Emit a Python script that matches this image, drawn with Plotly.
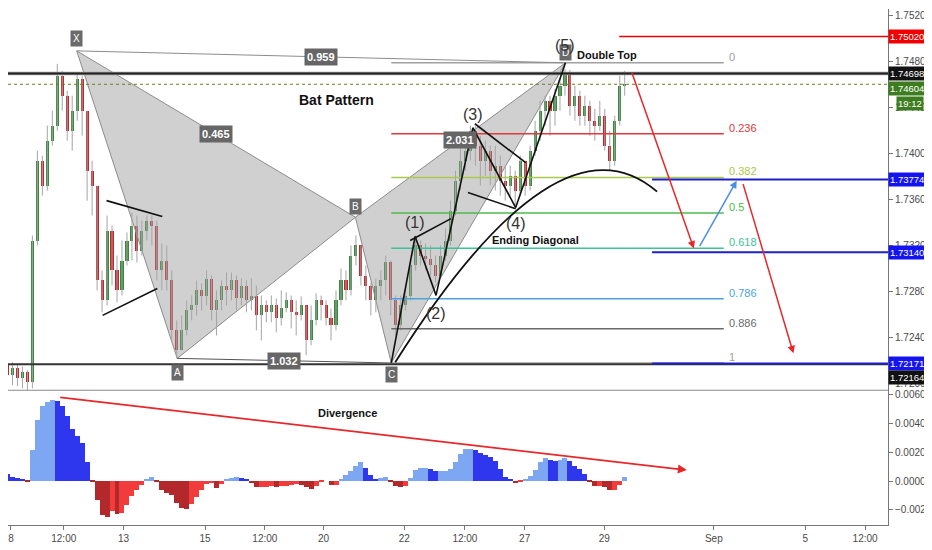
import plotly.graph_objects as go

# ---------------- data ----------------
first_open = 1.72372
closes = [
    1.72155, 1.72068, 1.72128, 1.72041, 1.72094, 1.72007, 1.73242, 1.73938, 1.73721, 1.74112,
    1.74243, 1.74678, 1.74504, 1.74199, 1.74373, 1.74651, 1.74373, 1.73851, 1.73721, 1.72894,
    1.72720, 1.73329, 1.72981, 1.72807, 1.73068, 1.73242, 1.73373, 1.73155, 1.73329, 1.73416,
    1.73373, 1.72981, 1.73068, 1.72894, 1.72459, 1.72285, 1.72459, 1.72633, 1.72677, 1.72807,
    1.72763, 1.72911, 1.72633, 1.72720, 1.72850, 1.72807, 1.72894, 1.72737, 1.72850, 1.72720,
    1.72763, 1.72589, 1.72677, 1.72616, 1.72677, 1.72563, 1.72650, 1.72720, 1.72616, 1.72589,
    1.72677, 1.72372, 1.72546, 1.72720, 1.72677, 1.72563, 1.72502, 1.72720, 1.72894, 1.72807,
    1.73111, 1.73199, 1.72937, 1.72850, 1.72720, 1.72850, 1.72894, 1.73051, 1.72720, 1.72502,
    1.72677, 1.72763, 1.73025, 1.73199, 1.73111, 1.73085, 1.73025, 1.72937, 1.73111, 1.73242,
    1.73503, 1.73764, 1.73938, 1.74025, 1.74199, 1.74069, 1.73938, 1.74025, 1.73851, 1.73895,
    1.73764, 1.73721, 1.73807, 1.73677, 1.73938, 1.73721, 1.74025, 1.74199, 1.74373, 1.74460,
    1.74373, 1.74504, 1.74591, 1.74704, 1.74416, 1.74504, 1.74330, 1.74416, 1.74286, 1.74243,
    1.74330, 1.74069, 1.73938, 1.74286, 1.74591, 1.74604]
highs = [
    1.72433, 1.72181, 1.72181, 1.72163, 1.72146, 1.72111, 1.73286, 1.74025, 1.73982, 1.74243,
    1.74373, 1.74782, 1.74721, 1.74547, 1.74504, 1.74704, 1.74680, 1.74373, 1.73938, 1.73721,
    1.72981, 1.73460, 1.73373, 1.73111, 1.73242, 1.73312, 1.73486, 1.73460, 1.73416, 1.73460,
    1.73460, 1.73416, 1.73216, 1.73199, 1.72981, 1.72546, 1.72589, 1.72720, 1.72763, 1.72894,
    1.72868, 1.72981, 1.72937, 1.72807, 1.72894, 1.72964, 1.72964, 1.72937, 1.72911, 1.72894,
    1.72911, 1.72850, 1.72763, 1.72720, 1.72763, 1.72737, 1.72807, 1.72790, 1.72763, 1.72720,
    1.72755, 1.72677, 1.72677, 1.72781, 1.72763, 1.72720, 1.72650, 1.72807, 1.72998, 1.72981,
    1.73199, 1.73286, 1.73199, 1.73025, 1.72877, 1.72911, 1.72981, 1.73111, 1.73068, 1.72763,
    1.72763, 1.72850, 1.73085, 1.73286, 1.73242, 1.73216, 1.73199, 1.73111, 1.73199, 1.73346,
    1.73590, 1.73851, 1.74112, 1.74156, 1.74243, 1.74243, 1.74156, 1.74112, 1.74069, 1.74069,
    1.73982, 1.73895, 1.73895, 1.73851, 1.73982, 1.73938, 1.74069, 1.74286, 1.74460, 1.74504,
    1.74504, 1.74564, 1.74651, 1.74738, 1.74730, 1.74591, 1.74547, 1.74504, 1.74460, 1.74390,
    1.74460, 1.74390, 1.74199, 1.74330, 1.74678, 1.74721]
lows = [
    1.72111, 1.72007, 1.71980, 1.71972, 1.71954, 1.71937, 1.71954, 1.73199, 1.73633, 1.73677,
    1.74069, 1.74199, 1.74373, 1.74112, 1.74025, 1.74286, 1.74156, 1.73590, 1.73460, 1.72807,
    1.72616, 1.72677, 1.72850, 1.72703, 1.72763, 1.73025, 1.73068, 1.73051, 1.73111, 1.73242,
    1.73199, 1.72894, 1.72807, 1.72807, 1.72372, 1.72215, 1.72285, 1.72415, 1.72546, 1.72589,
    1.72633, 1.72677, 1.72546, 1.72415, 1.72633, 1.72677, 1.72720, 1.72633, 1.72677, 1.72616,
    1.72633, 1.72459, 1.72372, 1.72529, 1.72529, 1.72442, 1.72502, 1.72616, 1.72476, 1.72415,
    1.72546, 1.72242, 1.72329, 1.72502, 1.72546, 1.72502, 1.72372, 1.72459, 1.72677, 1.72720,
    1.72763, 1.73025, 1.72850, 1.72720, 1.72589, 1.72616, 1.72720, 1.72763, 1.72589, 1.72415,
    1.72459, 1.72633, 1.72720, 1.72981, 1.73025, 1.72981, 1.72937, 1.72877, 1.72981, 1.73068,
    1.73199, 1.73460, 1.73677, 1.73851, 1.73938, 1.73895, 1.73721, 1.73807, 1.73721, 1.73677,
    1.73633, 1.73590, 1.73633, 1.73547, 1.73633, 1.73633, 1.73677, 1.73982, 1.74112, 1.74243,
    1.74156, 1.74243, 1.74373, 1.74504, 1.74330, 1.74286, 1.74243, 1.74243, 1.74156, 1.74112,
    1.74199, 1.74025, 1.73851, 1.73895, 1.74243, 1.74504]
macd_hist = [
    0.00110, 0.00048, 0.00028, 0.00021, 0.00014, -0.00007, 0.00214, 0.00421, 0.00518, 0.00545,
    0.00559, 0.00552, 0.00518, 0.00449, 0.00359, 0.00311, 0.00262, 0.00131, -0.00007, -0.00131,
    -0.00235, -0.00248, -0.00207, -0.00228, -0.00221, -0.00166, -0.00104, -0.00062, -0.00028, 0.00007,
    0.00028, -0.00007, -0.00062, -0.00083, -0.00097, -0.00152, -0.00186, -0.00193, -0.00159, -0.00110,
    -0.00062, -0.00021, -0.00014, -0.00048, -0.00021, 0.00007, 0.00021, 0.00028, 0.00021, 0.00007,
    -0.00014, -0.00041, -0.00041, -0.00041, -0.00035, -0.00041, -0.00035, -0.00035, -0.00028, -0.00021,
    -0.00028, -0.00041, -0.00055, -0.00035, -0.00007, 0.00000, -0.00028, -0.00028, 0.00007, 0.00041,
    0.00069, 0.00104, 0.00131, 0.00090, 0.00041, 0.00014, 0.00021, 0.00028, -0.00003, -0.00035,
    -0.00041, -0.00035, 0.00021, 0.00076, 0.00090, 0.00090, 0.00083, 0.00069, 0.00069, 0.00069,
    0.00083, 0.00131, 0.00186, 0.00221, 0.00221, 0.00214, 0.00193, 0.00179, 0.00166, 0.00138,
    0.00083, 0.00028, 0.00007, -0.00014, -0.00007, 0.00007, 0.00035, 0.00076, 0.00131, 0.00159,
    0.00145, 0.00138, 0.00145, 0.00159, 0.00138, 0.00104, 0.00083, 0.00048, -0.00003, -0.00035,
    -0.00035, -0.00041, -0.00062, -0.00062, -0.00028, 0.00028]

tick_pos = [1.7, 12.3, 24.3, 40.7, 52.7, 64.5, 80.7, 92.9, 104.9, 120.9, 142.9, 161.3, 173.3]
tick_text = ["8", "12:00", "13", "15", "12:00", "20", "22", "12:00", "27", "29", "Sep", "5", "12:00"]
price_ticks = [1.720, 1.724, 1.728, 1.732, 1.736, 1.740, 1.744, 1.748, 1.752]
macd_ticks = [-0.002, 0.0, 0.002, 0.004, 0.006]

# Bat pattern X A B C D
pattern_names = ["X", "A", "B", "C", "D"]
pattern_idx = [14.9, 35.1, 70.9, 78.1, 113.1]
pattern_price = [1.74895, 1.72215, 1.73445, 1.72175, 1.74791]
pattern_label_shift = [12, -14, 11, -12, 10]
ratio_xb, ratio_xd, ratio_ac, ratio_bd = "0.465", "0.959", "1.032", "2.031"

# Elliott waves (start at C)
wave_names = ["(1)", "(2)", "(3)", "(4)", "(5)"]
wave_idx = [78.1, 82.9, 87.1, 94.5, 103.1, 113.1]
wave_price = [1.72175, 1.73277, 1.72764, 1.74225, 1.73529, 1.74791]
wave_label_shift = [14, -18, 13, -16, 17]

# trend lines: (idx0, price0, idx1, price1)
trend_lines = [
    (20.9, 1.73590, 32.1, 1.73451),
    (20.1, 1.72590, 31.1, 1.72824),
    (81.9, 1.73242, 90.1, 1.73433),
    (94.9, 1.74260, 105.1, 1.73921),
    (93.5, 1.73660, 103.1, 1.73520),
]
arc_points = [(78.9, 1.72181), (111.5, 1.74416), (131.5, 1.73668)]

fib_ratios = [0, 0.236, 0.382, 0.5, 0.618, 0.786, 0.886, 1]
fib_labels = ["0", "0.236", "0.382", "0.5", "0.618", "0.786", "0.886", "1"]
fib_colors = ["#a0a0a0", "#e0393e", "#a9c84c", "#4cbb4c", "#3cc39a", "#4aa3df", "#6a6a6a", "#a0a0a0"]
fib_end_idx = 144.9

level_red = 1.75020
level_black_top = 1.74698
level_current = 1.74604
level_blue = [1.73774, 1.73140, 1.72171]
level_black_bottom = 1.72164
red_start_idx = 123.9
blue_start_idx = 130.5

# arrows: (tail_idx, tail_val, head_idx, head_val, color)
price_arrows = [
    (126.3, 1.74721, 138.9, 1.73172, "#e8272b"),
    (139.9, 1.73181, 147.5, 1.73764, "#4a90e2"),
    (148.7, 1.73747, 158.9, 1.72259, "#e8272b"),
]
macd_arrow = (11.3, 0.00580, 137.5, 0.00076)

# ---------------- figure ----------------
n = len(closes)
idx = list(range(n))
opens = [first_open] + closes[:-1]
X_MIN, X_MAX = 1.1, 177.9
PANE_SPLIT = 0.2611
fig = go.Figure()

# pattern triangles
for a, b, c in [(0, 1, 2), (2, 3, 4)]:
    fig.add_trace(go.Scatter(
        x=[pattern_idx[a], pattern_idx[b], pattern_idx[c], pattern_idx[a]],
        y=[pattern_price[a], pattern_price[b], pattern_price[c], pattern_price[a]],
        mode="lines", fill="toself", fillcolor="rgba(150,150,150,0.45)",
        line=dict(color="#8c8c8c", width=1), hoverinfo="skip", showlegend=False))

# wicks
wx, wy = [], []
for i in idx:
    wx += [i, i, None]
    wy += [lows[i], highs[i], None]
fig.add_trace(go.Scatter(x=wx, y=wy, mode="lines", line=dict(color="#a5a5a5", width=1),
                         hoverinfo="skip", showlegend=False))
# bodies
bases = [min(o, c) for o, c in zip(opens, closes)]
heights = [max(abs(c - o), 0.00004) for o, c in zip(opens, closes)]
body_colors = ["#378a3b" if c >= o else "#c4262b" for o, c in zip(opens, closes)]
fig.add_trace(go.Bar(x=idx, y=heights, base=bases, width=0.62, marker=dict(color=body_colors, line=dict(width=0)),
                     hoverinfo="skip", showlegend=False, yaxis="y"))

# MACD histogram
mcols = []
for i, v in enumerate(macd_hist):
    prev = macd_hist[i - 1] if i > 0 else v
    if v >= 0:
        mcols.append("#7ea7f3" if v >= prev else "#2f37ee")
    else:
        mcols.append("#f23c3c" if v >= prev else "#b3282b")
fig.add_trace(go.Bar(x=idx, y=macd_hist, width=1.0, marker=dict(color=mcols, line=dict(width=0)),
                     yaxis="y2", hoverinfo="skip", showlegend=False))

shapes = []
def hline(x0, x1, y, color, width, dash="solid", yref="y"):
    shapes.append(dict(type="line", xref="x", yref=yref, x0=x0, x1=x1, y0=y, y1=y,
                       line=dict(color=color, width=width, dash=dash)))

def seg(x0, y0, x1, y1, color, width, yref="y"):
    shapes.append(dict(type="line", xref="x", yref=yref, x0=x0, x1=x1, y0=y0, y1=y1,
                       line=dict(color=color, width=width)))

# fib retracement levels
C, D = pattern_price[3], pattern_price[4]
fib_vals = [D - r * (D - C) for r in fib_ratios]
for v, col in zip(fib_vals, fib_colors):
    hline(pattern_idx[3], fib_end_idx, v, col, 1.5)

# full-width levels
hline(X_MIN, X_MAX, level_black_top, "#9a9a9a", 3.5)
hline(X_MIN, X_MAX, level_black_top, "#222222", 1.8)
hline(X_MIN, X_MAX, level_current, "#6b7d1c", 1, dash="dot")
hline(X_MIN, X_MAX, level_black_bottom, "#333333", 2)
hline(red_start_idx, X_MAX, level_red, "#e8000b", 1.5)
for v in level_blue:
    hline(blue_start_idx, X_MAX, v, "#1f1fc8", 2)

# X-D and A-C lines
seg(pattern_idx[0], pattern_price[0], pattern_idx[4], pattern_price[4], "#8c8c8c", 1)
seg(pattern_idx[1], pattern_price[1], pattern_idx[3], pattern_price[3], "#555555", 1)

# Elliott wave zigzag
for k in range(len(wave_idx) - 1):
    seg(wave_idx[k], wave_price[k], wave_idx[k + 1], wave_price[k + 1], "#111111", 1.6)
for (a, b, c, d) in trend_lines:
    seg(a, b, c, d, "#111111", 1.6)

# arc
(p0, p1, p2) = arc_points
shapes.append(dict(type="path", xref="x", yref="y",
                   path=f"M {p0[0]},{p0[1]} Q {p1[0]},{p1[1]} {p2[0]},{p2[1]}",
                   line=dict(color="#111111", width=1.8)))

# pane separator
shapes.append(dict(type="line", xref="paper", yref="paper", x0=0, x1=1, y0=PANE_SPLIT, y1=PANE_SPLIT,
                   line=dict(color="#8a8a8a", width=1.2)))

anns = []
def txt(x, y, s, size=11, color="#222", bold=False, yref="y", xanchor="center", yshift=0, **kw):
    anns.append(dict(x=x, y=y, xref="x", yref=yref, text=f"<b>{s}</b>" if bold else s,
                     showarrow=False, xanchor=xanchor, yshift=yshift,
                     font=dict(size=size, color=color, family="Liberation Sans, Arial"), **kw))

# pattern letter labels
for name, xi, yp, sh in zip(pattern_names, pattern_idx, pattern_price, pattern_label_shift):
    txt(xi, yp, name, size=10, color="white", yshift=sh, bgcolor="#6a6a6a", borderpad=2)
# ratio labels
def mid(a, b):
    return (pattern_idx[a] + pattern_idx[b]) / 2, (pattern_price[a] + pattern_price[b]) / 2
for (a, b), s in [((0, 2), ratio_xb), ((0, 4), ratio_xd), ((1, 3), ratio_ac), ((2, 4), ratio_bd)]:
    mx, my = mid(a, b)
    txt(mx, my, s, size=11, color="white", bold=True, bgcolor="#666666", borderpad=2)

# wave labels
for k, name in enumerate(wave_names):
    txt(wave_idx[k + 1], wave_price[k + 1], name, size=16, color="#333333", yshift=wave_label_shift[k])

# fib labels
for v, s, col in zip(fib_vals, fib_labels, fib_colors):
    txt(fib_end_idx + 0.6, v, s, size=11, color=col, xanchor="left", yshift=6)

# text labels
txt(67.1, 1.74469, "Bat Pattern", size=14, color="#111", bold=True)
txt(107.1, 1.73251, "Ending Diagonal", size=11, color="#111", bold=True)
txt(115.1, 1.74860, "Double Top", size=11, color="#111", bold=True, xanchor="left")
txt(69.3, 0.00469, "Divergence", size=11, color="#111", bold=True, yref="y2")

# arrows
for (tx, ty, hx, hy, col) in price_arrows:
    anns.append(dict(x=hx, y=hy, ax=tx, ay=ty, xref="x", yref="y", axref="x", ayref="y",
                     showarrow=True, arrowhead=2, arrowsize=1, arrowwidth=1.5, arrowcolor=col, text=""))
tx, ty, hx, hy = macd_arrow
anns.append(dict(x=hx, y=hy, ax=tx, ay=ty, xref="x", yref="y2", axref="x", ayref="y2",
                 showarrow=True, arrowhead=2, arrowsize=1, arrowwidth=1.8, arrowcolor="#e8272b", text=""))

# right-axis price tags
def tag(v, s, bg, yshift=0, xshift=0):
    anns.append(dict(x=1, y=v, xref="paper", yref="y", xanchor="left", xshift=xshift, yshift=yshift,
                     text=s, showarrow=False, bgcolor=bg, borderpad=1,
                     font=dict(size=9.5, color="white", family="Liberation Sans, Arial")))
tag(level_red, f"{level_red:.5f}", "#f00000")
tag(level_black_top, f"{level_black_top:.5f}", "#111111")
tag(level_current, f"{level_current:.5f}", "#3d7d1f", yshift=-4)
tag(level_current, "19:12", "#3d7d1f", yshift=-19, xshift=8)
for v in level_blue:
    tag(v, f"{v:.5f}", "#1414f0")
tag(level_black_bottom, f"{level_black_bottom:.5f}", "#111111", yshift=-13)

axis_font = dict(size=10, color="#4a4a4a", family="Liberation Sans, Arial")
fig.update_layout(
    width=924, height=542, margin=dict(l=0, r=40, t=0, b=25),
    paper_bgcolor="white", plot_bgcolor="white", barmode="overlay", bargap=0,
    showlegend=False, shapes=shapes, annotations=anns,
    xaxis=dict(range=[X_MIN, X_MAX], anchor="y2", tickvals=tick_pos, ticktext=tick_text,
               showgrid=False, zeroline=False, showline=True, linecolor="#777", ticks="outside",
               ticklen=4, tickcolor="#777", tickfont=axis_font, ticklabeloverflow="allow"),
    yaxis=dict(domain=[PANE_SPLIT, 1], range=[1.71937, 1.75260], side="right", anchor="x",
               tickvals=price_ticks, tickformat=".5f", showgrid=False, zeroline=False,
               showline=True, linecolor="#777", ticks="outside", ticklen=4, tickcolor="#777",
               tickfont=axis_font),
    yaxis2=dict(domain=[0, PANE_SPLIT], range=[-0.00304, 0.00628], side="right", anchor="x",
                tickvals=macd_ticks, tickformat=".4f", showgrid=False, zeroline=False,
                showline=True, linecolor="#777", ticks="outside", ticklen=4, tickcolor="#777",
                tickfont=axis_font),
)
fig.write_html("out.html")
